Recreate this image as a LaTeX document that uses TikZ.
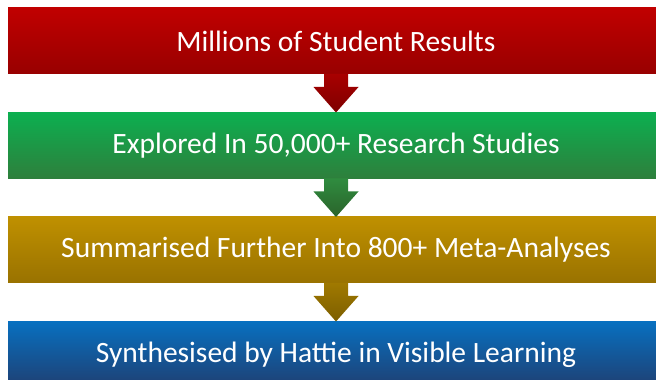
\documentclass[tikz,border=0pt]{standalone}
\usepackage{fontspec}
\setmainfont{Carlito}
\usetikzlibrary{positioning,calc}
\definecolor{redhi}{HTML}{C00000}
\definecolor{redlo}{HTML}{980000}
\definecolor{greenhi}{HTML}{0CAF50}
\definecolor{greenlo}{HTML}{2E7F3C}
\definecolor{goldhi}{HTML}{BF9000}
\definecolor{goldlo}{HTML}{997200}
\definecolor{bluehi}{HTML}{0870C0}
\definecolor{bluelo}{HTML}{1F3F72}
\definecolor{arrowredhi}{HTML}{A80000}
\definecolor{arrowredlo}{HTML}{7E0000}
\definecolor{arrowgreenhi}{HTML}{2F8C3F}
\definecolor{arrowgreenlo}{HTML}{2B632B}
\definecolor{arrowgoldhi}{HTML}{A07900}
\definecolor{arrowgoldlo}{HTML}{7C5E00}

\begin{document}
\begin{tikzpicture}[
x = 1pt, y = 1pt,
node distance = 38.5pt,
every node/.style = {
	font = \fontsize{29.5}{34}\selectfont,
	text = white,
	align = center
},
stage/.style = {
	rectangle,
	minimum width = 656pt,
	minimum height = 66pt,
	inner sep = 0pt,
	outer sep = 0pt,
	shading = axis,
	shading angle = 0
}
]
\useasboundingbox (0,0) rectangle (656,380);

\node (results) [stage, top color=redhi, bottom color=redlo] at (336,339) {Millions of Student Results};
\node (studies) [stage, top color=greenhi, bottom color=greenlo, below = of results] {Explored In 50,000+ Research Studies};
\node (meta) [stage, top color=goldhi, bottom color=goldlo, below = of studies] {Summarised Further Into 800+ Meta-Analyses};
\node (hattie) [stage, top color=bluehi, bottom color=bluelo, below = of meta] {Synthesised by Hattie in Visible Learning};

% block arrows between the stages
\foreach \from/\to/\hi/\lo in {results/studies/arrowredhi/arrowredlo, studies/meta/arrowgreenhi/arrowgreenlo, meta/hattie/arrowgoldhi/arrowgoldlo}
	\shade[top color=\hi, bottom color=\lo] ($(\from.south)+(-12,0)$) -- ($(\from.south)+(12,0)$) -- ($(\from.south)+(12,-13)$) -- ($(\from.south)+(22.5,-13)$) -- (\to.north) -- ($(\from.south)+(-22.5,-13)$) -- ($(\from.south)+(-12,-13)$) -- cycle;

\end{tikzpicture}
\end{document}
